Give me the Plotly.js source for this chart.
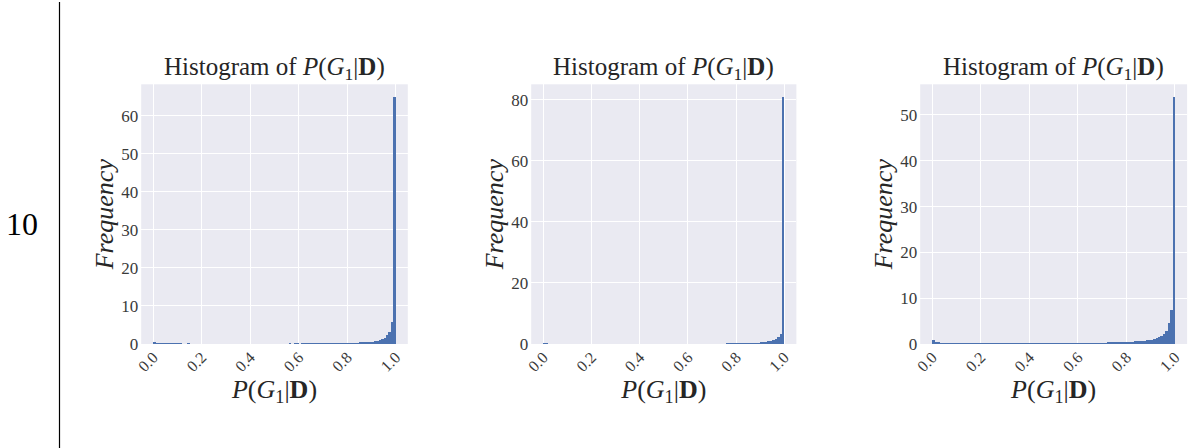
<!DOCTYPE html>
<html>
<head>
<meta charset="utf-8">
<script src="https://cdn.plot.ly/plotly-3.0.1.min.js"></script>
<style>html,body{margin:0;padding:0;background:#fff;}#chart{width:1192px;height:448px;}</style>
</head>
<body>
<div id="chart"></div>
<script>
// Histogram densities (100 bins over [0,1], bin width 0.01)
const binWidth = 0.01;
const nBins = 100;
const hist1 = [0.62,0.38,0.30,0.26,0.22,0.20,0.18,0.17,0.15,0.16,
 0.14,0.15,0.13,0.12,0.14,0.11,0.12,0.13,0.10,0.12,
 0.11,0.10,0.12,0.09,0.11,0.10,0.09,0.11,0.10,0.09,
 0.10,0.08,0.10,0.09,0.11,0.09,0.10,0.08,0.10,0.11,
 0.09,0.10,0.11,0.09,0.12,0.10,0.11,0.10,0.12,0.11,
 0.12,0.11,0.13,0.12,0.12,0.13,0.14,0.12,0.14,0.15,
 0.13,0.15,0.14,0.16,0.15,0.17,0.16,0.18,0.17,0.19,
 0.18,0.20,0.21,0.20,0.22,0.23,0.24,0.25,0.27,0.28,
 0.30,0.32,0.34,0.36,0.38,0.41,0.44,0.48,0.53,0.58,
 0.65,0.74,0.86,1.02,1.25,1.60,2.25,3.20,5.90,65.0];
const hist2 = [0.45,0.20,0.15,0.12,0.10,0.08,0.08,0.07,0.06,0.07,
 0.05,0.06,0.05,0.05,0.06,0.04,0.05,0.05,0.04,0.05,
 0.04,0.05,0.04,0.05,0.04,0.04,0.05,0.04,0.04,0.05,
 0.04,0.05,0.04,0.04,0.05,0.04,0.05,0.04,0.05,0.05,
 0.04,0.05,0.05,0.04,0.05,0.05,0.06,0.05,0.05,0.06,
 0.05,0.06,0.06,0.05,0.06,0.07,0.06,0.07,0.07,0.08,
 0.07,0.08,0.08,0.09,0.09,0.10,0.10,0.11,0.11,0.12,
 0.12,0.13,0.14,0.14,0.15,0.16,0.17,0.18,0.19,0.20,
 0.22,0.23,0.25,0.27,0.29,0.31,0.34,0.37,0.41,0.46,
 0.52,0.60,0.70,0.84,1.02,1.30,1.75,2.40,3.30,81.0];
const hist3 = [0.78,0.45,0.36,0.30,0.26,0.24,0.22,0.21,0.20,0.19,
 0.18,0.19,0.17,0.16,0.18,0.15,0.16,0.17,0.15,0.16,
 0.14,0.15,0.16,0.14,0.15,0.13,0.14,0.15,0.13,0.14,
 0.13,0.14,0.15,0.13,0.15,0.14,0.15,0.14,0.16,0.15,
 0.15,0.16,0.15,0.17,0.16,0.17,0.16,0.18,0.17,0.18,
 0.18,0.19,0.19,0.20,0.19,0.21,0.20,0.22,0.21,0.23,
 0.22,0.24,0.24,0.25,0.26,0.26,0.27,0.28,0.29,0.30,
 0.30,0.32,0.33,0.34,0.36,0.37,0.39,0.41,0.43,0.45,
 0.47,0.50,0.53,0.56,0.60,0.64,0.68,0.74,0.80,0.88,
 0.98,1.10,1.26,1.48,1.80,2.25,2.90,4.50,7.40,54.0];
const xTickVals = [0, 0.2, 0.4, 0.6, 0.8, 1.0];
const xTickText = ["0.0", "0.2", "0.4", "0.6", "0.8", "1.0"];
const yDticks = [10, 20, 10];
const rowLabel = "10";
const panelTitle = "Histogram of <i>P</i>(<i>G</i><sub>1</sub>|<b>D</b>)";
const xLabel = "<i>P</i>(<i>G</i><sub>1</sub>|<b>D</b>)";
const yLabel = "<i>Frequency</i>";

const binCenters = [];
for (let i = 0; i < nBins; i++) binCenters.push((i + 0.5) * binWidth);

const FONT = "Liberation Serif, DejaVu Serif, serif";
const TXT = "#262626";
const TICK = "#3a3a3a";
const BAR = "#4C72B0";
const W = 1192, H = 448;

const hists = [hist1, hist2, hist3];
const xDomains = [[141.2, 407.8], [531.2, 796.4], [920.2, 1187.1]];
const yTopPx = 84.3, yBotPx = 344;

const traces = [];
const layout = {
  width: W, height: H,
  margin: {l: 0, r: 0, t: 0, b: 0},
  paper_bgcolor: "#ffffff",
  plot_bgcolor: "#EAEAF2",
  showlegend: false,
  bargap: 0,
  font: {family: FONT, color: TXT},
  annotations: [],
  shapes: []
};

hists.forEach((h, k) => {
  const sfx = k === 0 ? "" : String(k + 1);
  traces.push({
    type: "bar",
    x: binCenters,
    y: h,
    width: binWidth,
    marker: {color: BAR, line: {width: 0}},
    xaxis: "x" + sfx,
    yaxis: "y" + sfx,
    hoverinfo: "x+y"
  });
  const dom = [xDomains[k][0] / W, xDomains[k][1] / W];
  const ymax = Math.max(...h) * 1.05;
  layout["xaxis" + sfx] = {
    domain: dom,
    anchor: "y" + sfx,
    range: [-0.05, 1.05],
    tickvals: xTickVals,
    ticktext: xTickText,
    tickangle: -45,
    tickfont: {family: FONT, size: 16, color: TICK},
    showgrid: true, gridcolor: "#ffffff", gridwidth: 1,
    zeroline: false, showline: false, ticks: "",
    title: {text: xLabel, font: {family: FONT, size: 26, color: TXT}, standoff: 3}
  };
  layout["yaxis" + sfx] = {
    domain: [(H - yBotPx) / H, (H - yTopPx) / H],
    anchor: "x" + sfx,
    range: [0, ymax],
    dtick: yDticks[k],
    tick0: 0,
    tickfont: {family: FONT, size: 17, color: TICK},
    showgrid: true, gridcolor: "#ffffff", gridwidth: 1,
    zeroline: false, showline: false, ticks: "",
    ticklabelstandoff: 2,
    title: {text: yLabel, font: {family: FONT, size: 26, color: TXT}, standoff: 0}
  };
  layout.annotations.push({
    xref: "paper", yref: "paper",
    x: (dom[0] + dom[1]) / 2,
    y: (H - yTopPx) / H,
    yanchor: "bottom", xanchor: "center",
    yshift: -2,
    showarrow: false,
    text: panelTitle,
    font: {family: FONT, size: 25, color: TXT}
  });
});

layout.annotations.push({
  xref: "paper", yref: "paper",
  x: 22 / W, y: 0.5,
  xanchor: "center", yanchor: "middle",
  showarrow: false,
  text: rowLabel,
  font: {family: FONT, size: 32, color: "#000000"}
});
layout.shapes.push({
  type: "line", xref: "paper", yref: "paper",
  x0: 59.5 / W, x1: 59.5 / W, y0: 0, y1: (H - 2) / H,
  line: {color: "#000000", width: 1.2}
});

Plotly.newPlot("chart", traces, layout, {staticPlot: true, displayModeBar: false});
</script>
</body>
</html>
